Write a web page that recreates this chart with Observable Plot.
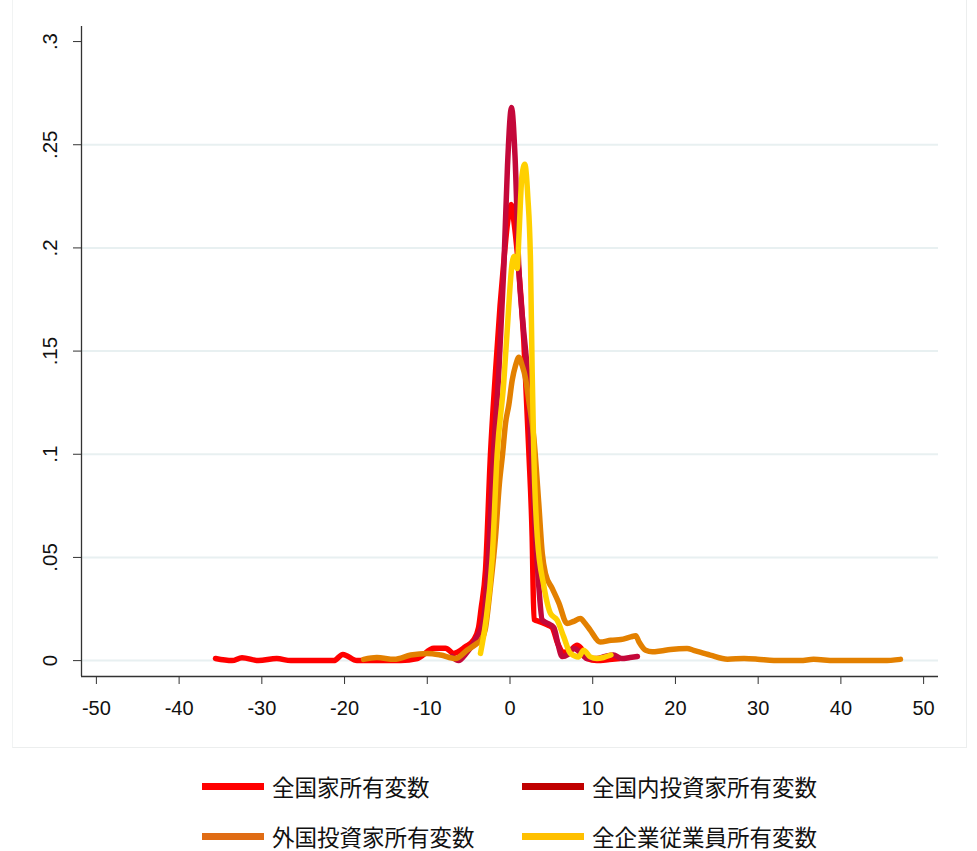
<!DOCTYPE html>
<html>
<head>
<meta charset="utf-8">
<script src="https://cdn.jsdelivr.net/npm/d3@7"></script>
<script src="https://cdn.jsdelivr.net/npm/@observablehq/plot@0.6"></script>
<style>
  html, body { margin: 0; padding: 0; background: #ffffff; }
  #wrap { position: relative; width: 977px; height: 851px; background: #fff; }
  #frame { position: absolute; left: 12px; top: -2px; width: 953px; height: 749px;
           border-left: 1px solid #f1f3f3; border-right: 1px solid #eceeee; border-bottom: 1px solid #eceeee; pointer-events: none; }
  #legend { position: absolute; left: 0; top: 760px; width: 977px; height: 91px;
            font-family: "Noto Sans CJK JP", "Noto Sans CJK SC", sans-serif; font-size: 22.5px; color: #111; }
  .item { position: absolute; display: flex; align-items: center; height: 30px; }
  .sw { width: 62px; height: 7px; margin-right: 8px; }
</style>
</head>
<body>
<div id="wrap">
  <div id="chart"></div>
  <div id="frame"></div>
  <div id="legend"></div>
</div>
<script>
// ---- Data ----
const seriesNames = ["全国家所有変数", "全国内投資家所有変数", "外国投資家所有変数", "全企業従業員所有変数"];
const lineColors = ["#ff0000", "#c4083a", "#e38000", "#ffd000"];
const legendColors = ["#ff0000", "#c00000", "#e06c14", "#ffc000"];

const redX = [-35.6, -33.6, -32.4, -30.4, -28.2, -26.5, -24, -21.3, -20.2, -18.5, -16, -13.2, -11.2, -9.2, -7.8, -6.8, -5.4, -4.4, -3.8, -3.5, -2.96, -2.36, -1.75, -1.2, -0.82, -0.3, 0.14, 0.5, 0.87, 1.67, 2.27, 2.68, 2.9, 3.5, 4.7, 5.1, 5.8, 6.5, 7.3, 8.1, 8.6, 9.3, 10.5, 12.0, 13.3];
const redY = [0.001, 0, 0.0014, 0, 0.001, 0, 0, 0, 0.003, 0, 0, 0, 0.001, 0.006, 0.006, 0.0035, 0.0067, 0.01, 0.016, 0.025, 0.044, 0.10, 0.14, 0.172, 0.19, 0.212, 0.221, 0.212, 0.198, 0.155, 0.102, 0.06, 0.02, 0.019, 0.017, 0.016, 0.008, 0.004, 0.005, 0.0075, 0.006, 0.001, 0, 0.0005, 0.001];

const crimX = [-7, -6.2, -5.4, -4.2, -3.2, -2.6, -2.0, -1.35, -0.75, -0.3, 0.18, 0.6, 1.07, 1.6, 2.1, 2.6, 3.1, 3.5, 3.9, 4.6, 5.3, 5.8, 6.3, 7.0, 7.7, 8.5, 9.3, 10.5, 11.5, 12.5, 13.5, 14.5, 15.4];
const crimY = [0.002, 0, 0.003, 0.01, 0.02, 0.05, 0.10, 0.14, 0.19, 0.24, 0.268, 0.245, 0.19, 0.162, 0.14, 0.10, 0.06, 0.035, 0.0196, 0.018, 0.016, 0.008, 0.002, 0.003, 0.0059, 0.004, 0.001, 0.001, 0.002, 0.0027, 0.001, 0.0015, 0.002];

const orangeX = [-17.7, -16.1, -14, -12, -10, -8.4, -6.6, -5.2, -4.0, -3.5, -3.0, -2.36, -1.75, -1.3, -0.9, -0.54, -0.14, 0.27, 0.67, 1.07, 1.47, 1.87, 2.27, 2.88, 3.48, 3.9, 4.3, 5.1, 5.9, 6.9, 7.7, 8.5, 9.1, 9.7, 10.9, 12.2, 13.4, 14.6, 15.2, 15.6, 16.4, 17.2, 18.2, 19.4, 21.4, 22.2, 24.2, 26.3, 28.3, 29.9, 31.9, 35.1, 36.7, 39.2, 45.2, 47.2];
const orangeY = [0.0006, 0.0015, 0.0006, 0.0027, 0.0035, 0.0027, 0.001, 0.005, 0.0083, 0.01, 0.015, 0.036, 0.06, 0.085, 0.10, 0.115, 0.124, 0.136, 0.143, 0.147, 0.143, 0.137, 0.126, 0.108, 0.076, 0.052, 0.042, 0.035, 0.028, 0.018, 0.019, 0.0204, 0.018, 0.0148, 0.009, 0.0099, 0.0102, 0.0115, 0.012, 0.009, 0.005, 0.0043, 0.0047, 0.0054, 0.0059, 0.005, 0.0027, 0.0007, 0.001, 0.0007, 0, 0, 0.0006, 0, 0, 0.0006];

const goldX = [-3.57, -2.96, -2.15, -1.55, -0.75, -0.34, 0.27, 0.5, 0.87, 1.07, 1.45, 1.79, 2.15, 2.48, 2.68, 2.88, 3.3, 4.1, 4.9, 5.7, 6.5, 7.3, 8.3, 8.9, 9.7, 10.5, 11.3, 12.2];
const goldY = [0.0035, 0.018, 0.05, 0.10, 0.135, 0.16, 0.193, 0.196, 0.19, 0.205, 0.235, 0.2405, 0.225, 0.193, 0.14, 0.10, 0.06, 0.036, 0.0228, 0.0196, 0.0115, 0.0035, 0.0018, 0.005, 0.0018, 0.001, 0.0015, 0.0027];

const xTicks = [-50, -40, -30, -20, -10, 0, 10, 20, 30, 40, 50];
const xTickLabels = ["-50", "-40", "-30", "-20", "-10", "0", "10", "20", "30", "40", "50"];
const yTicks = [0, 0.05, 0.1, 0.15, 0.2, 0.25, 0.3];
const yTickLabels = ["0", ".05", ".1", ".15", ".2", ".25", ".3"];
const gridVals = [0, 0.05, 0.1, 0.15, 0.2, 0.25];

// ---- Build table ----
const allX = [redX, crimX, orangeX, goldX];
const allY = [redY, crimY, orangeY, goldY];
const rows = [];
seriesNames.forEach((name, s) => {
  allX[s].forEach((x, i) => rows.push({series: name, x, y: allY[s][i]}));
});

const xDomain = [-51.8, 51.8];
const yDomain = [-0.0077, 0.3073];

const chart = Plot.plot({
  width: 977,
  height: 760,
  marginLeft: 81,
  marginRight: 39,
  marginTop: 26,
  marginBottom: 84,
  x: {domain: xDomain, label: null},
  y: {domain: yDomain, label: null},
  color: {domain: seriesNames, range: lineColors},
  style: {fontFamily: "'Liberation Sans', Arial, sans-serif", fontSize: "20px", color: "#111", background: "white"},
  marks: [
    Plot.ruleY(gridVals, {stroke: "#e8f0f1", strokeWidth: 2}),
    ...seriesNames.map(name => Plot.line(rows.filter(r => r.series === name), {
      x: "x", y: "y", stroke: "series", strokeWidth: 5.5, curve: "monotone-x",
      strokeLinejoin: "round", strokeLinecap: "round"
    })),
    Plot.ruleX([xDomain[0]], {stroke: "#333", strokeWidth: 1.3}),
    Plot.ruleY([yDomain[0]], {stroke: "#333", strokeWidth: 1.3}),
    Plot.axisX({ticks: xTicks, tickFormat: (d) => xTickLabels[xTicks.indexOf(d)], tickSize: 8, tickPadding: 16, fontSize: 20, stroke: "#333", label: null}),
    Plot.axisY({ticks: yTicks, tickSize: 8, tickFormat: () => "", stroke: "#333", label: null}),
    Plot.text(yTicks, {y: d => d, text: (d, i) => yTickLabels[i], frameAnchor: "left", dx: -31,
      rotate: -90, textAnchor: "middle", lineAnchor: "middle", fontSize: 20.5, fill: "#111"})
  ]
});
document.getElementById("chart").appendChild(chart);

// ---- Legend ----
const legendPos = [[202, 11], [522, 11], [202, 61], [522, 61]];
const legend = document.getElementById("legend");
seriesNames.forEach((name, i) => {
  const it = document.createElement("div");
  it.className = "item";
  it.style.left = legendPos[i][0] + "px";
  it.style.top = legendPos[i][1] + "px";
  const sw = document.createElement("div");
  sw.className = "sw";
  sw.style.background = legendColors[i];
  const tx = document.createElement("span");
  tx.textContent = name;
  it.appendChild(sw); it.appendChild(tx);
  legend.appendChild(it);
});
</script>
</body>
</html>
